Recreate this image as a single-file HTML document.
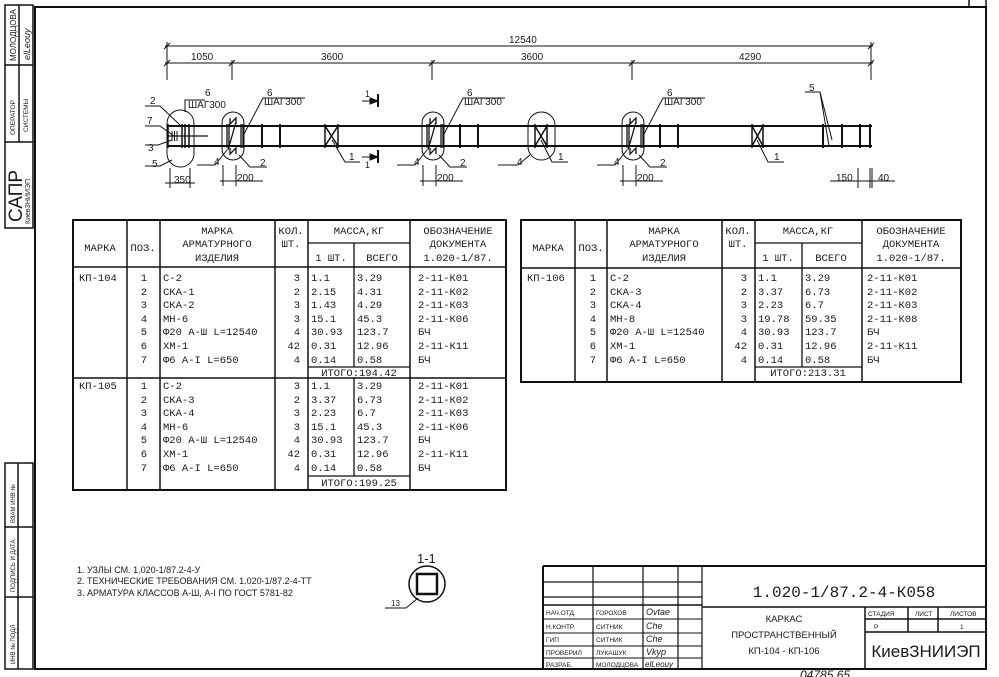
<!DOCTYPE html>
<html><head><meta charset="utf-8"><style>
html,body{margin:0;padding:0;background:#fff}
svg{display:block}
text{font-family:"Liberation Mono","DejaVu Sans Mono",monospace;fill:#1a1a1a}
.s{font-family:"Liberation Sans","DejaVu Sans",sans-serif}
</style></head><body>
<svg width="999" height="677" viewBox="0 0 999 677" xmlns="http://www.w3.org/2000/svg">
<rect width="999" height="677" fill="#fff"/>
<g stroke="#111" fill="none">
<path d="M35 7H986V669H35Z" stroke-width="2"/>
<path d="M969 0V7M986 0V7" stroke-width="1.5"/>
<path d="M5 5H33V228H5Z M5 65H33 M5 142H33 M19 5V65 M19 65V142" stroke-width="1.5"/>
<path d="M5 463H33V669H5Z M5 527H33 M5 597H33 M18 463V669" stroke-width="1.5"/>
</g>
<g class="s">
<text class="s" transform="translate(16,61) rotate(-90)" font-size="8">МОЛОДЦОВА</text>
<text class="s" transform="translate(30,60) rotate(-90)" font-size="9" font-style="italic">elLeouy</text>
<text class="s" transform="translate(15,135) rotate(-90)" font-size="6.5">ОПЕРАТОР</text>
<text class="s" transform="translate(28,132) rotate(-90)" font-size="6.5">СИСТЕМЫ</text>
<text class="s" transform="translate(22,222) rotate(-90)" font-size="19">САПР</text>
<text class="s" transform="translate(30,224) rotate(-90)" font-size="7">КиевЗНИИЭП</text>
<text class="s" transform="translate(15,664) rotate(-90)" font-size="6">ИНВ № ПОДЛ</text>
<text class="s" transform="translate(15,592) rotate(-90)" font-size="6">ПОДПИСЬ И ДАТА</text>
<text class="s" transform="translate(15,523) rotate(-90)" font-size="6">ВЗАМ ИНВ №</text>
</g>

<g stroke="#111" stroke-width="1" fill="none">
<path d="M165 46H873 M165 63H873"/>
<path d="M167 42V70 M232 60V70 M432 60V70 M632 60V70 M871 42V70 M232 63V80 M432 63V80 M632 63V80 M871 63V80 M167 63V80"/>
<path d="M164 49L170 43 M164 66L170 60 M229 66L235 60 M429 66L435 60 M629 66L635 60 M868 49L874 43 M868 66L874 60"/>
</g>
<g class="s" font-size="10">
<text class="s" x="509" y="43">12540</text>
<text class="s" x="191" y="60">1050</text>
<text class="s" x="321" y="60">3600</text>
<text class="s" x="521" y="60">3600</text>
<text class="s" x="739" y="60">4290</text>
</g>

<g stroke="#111" fill="none">
<path d="M168 126H872 M168 146H872" stroke-width="2"/>
<path d="M168 124V148" stroke-width="1.5"/>
<path d="M168 136H208" stroke-width="1.3"/>
<path d="M172 131V141 M174.5 131V141 M177 131V141" stroke-width="1"/>
<path d="M182 124V148 M185 124V148 M189 124V148" stroke-width="1.5"/>
<rect x="167" y="110" width="27" height="57" rx="13.5" stroke-width="1"/>
<path d="M145 106H160L180 125 M145 126H160L174 136 M145 145H158L172 140 M145 166H160L172 160 M185 112V100H205" stroke-width="1"/>
<path d="M262 124V148 M280 124V148 M460 124V148 M478 124V148 M660 124V148 M678 124V148 M823 124V148 M842 124V148 M860 124V148 M870 124V148" stroke-width="2"/>
<path d="M325 124V148 M338 124V148 M325 126L338 146 M338 126L325 146" stroke-width="1.5"/>
<path d="M535 124V148 M547 124V148 M535 126L547 146 M547 126L535 146" stroke-width="1.5"/>
<path d="M752 124V148 M763 124V148 M752 126L763 146 M763 126L752 146" stroke-width="1.5"/>
<rect x="528" y="112" width="27" height="48" rx="13.5" stroke-width="1"/>
<path d="M332 140L345 162H360 M541 140L552 162H568 M757 140L768 162H784" stroke-width="1"/>
<path d="M530 155L518 165H498" stroke-width="1"/>
<path d="M805 92H820L832 140 M820 92L829 146" stroke-width="1"/>
<path d="M378 94V107 M378 150V163" stroke-width="2"/>
<path d="M362 101H377 M362 157H377" stroke-width="1"/>
<path d="M370 98L378 101L370 104Z M370 154L378 157L370 160Z" fill="#111"/>
</g>
<g stroke="#111" fill="none">
<g transform="translate(233,0)">
<rect x="-11" y="112" width="22" height="48" rx="11" stroke-width="1"/>
<path d="M-6 124V148 M-4 124V148 M8 124V148 M10 124V148" stroke-width="1.3"/>
<path d="M-3 118V124L3 118V124 M-3 148V154L3 148V154 M3 122L-5 150" stroke-width="1.3"/>
<path d="M-6 150L-18 165H-36 M6 155L17 167H34 M10 136L30 98H72" stroke-width="1"/>
<path d="M-10 165V186 M3 165V186 M-13 181H30" stroke-width="1"/>
</g>
<g transform="translate(433,0)">
<rect x="-11" y="112" width="22" height="48" rx="11" stroke-width="1"/>
<path d="M-6 124V148 M-4 124V148 M8 124V148 M10 124V148" stroke-width="1.3"/>
<path d="M-3 118V124L3 118V124 M-3 148V154L3 148V154 M3 122L-5 150" stroke-width="1.3"/>
<path d="M-6 150L-18 165H-36 M6 155L17 167H34 M10 136L30 98H72" stroke-width="1"/>
<path d="M-10 165V186 M3 165V186 M-13 181H30" stroke-width="1"/>
</g>
<g transform="translate(633,0)">
<rect x="-11" y="112" width="22" height="48" rx="11" stroke-width="1"/>
<path d="M-6 124V148 M-4 124V148 M8 124V148 M10 124V148" stroke-width="1.3"/>
<path d="M-3 118V124L3 118V124 M-3 148V154L3 148V154 M3 122L-5 150" stroke-width="1.3"/>
<path d="M-6 150L-18 165H-36 M6 155L17 167H34 M10 136L30 98H72" stroke-width="1"/>
<path d="M-10 165V186 M3 165V186 M-13 181H30" stroke-width="1"/>
</g>
<path d="M170 168V188 M190 168V188 M165 183H195" stroke-width="1"/>
<path d="M858 168V188 M870 168V188 M872 168V188 M830 181H895" stroke-width="1"/>
</g>
<g class="s" font-size="10">
<text class="s" x="150" y="104">2</text><text class="s" x="147" y="124">7</text>
<text class="s" x="148" y="151">3</text><text class="s" x="152" y="167">5</text>
<text class="s" x="205" y="96">6</text><text class="s" x="188" y="108">ШАГ300</text>
<text class="s" x="174" y="183">350</text>
<text class="s" x="267" y="96">6</text><text class="s" x="264" y="105">ШАГ300</text>
<text class="s" x="467" y="96">6</text><text class="s" x="464" y="105">ШАГ300</text>
<text class="s" x="667" y="96">6</text><text class="s" x="664" y="105">ШАГ300</text>
<text class="s" x="214" y="165">4</text><text class="s" x="260" y="166">2</text><text class="s" x="237" y="181">200</text>
<text class="s" x="414" y="165">4</text><text class="s" x="460" y="166">2</text><text class="s" x="437" y="181">200</text>
<text class="s" x="614" y="165">4</text><text class="s" x="660" y="166">2</text><text class="s" x="637" y="181">200</text>
<text class="s" x="517" y="165">4</text>
<text class="s" x="349" y="160">1</text><text class="s" x="558" y="160">1</text><text class="s" x="774" y="160">1</text>
<text class="s" x="809" y="91">5</text>
<text class="s" x="836" y="181">150</text><text class="s" x="878" y="181">40</text>
<text class="s" x="365" y="97" font-size="9">1</text><text class="s" x="365" y="168" font-size="9">1</text>
</g>

<!-- LEFT TABLE -->
<g stroke="#111" fill="none">
<path d="M73 220H506V490H73Z" stroke-width="2"/>
<path d="M73 267H506 M73 378H506" stroke-width="1.5"/>
<path d="M127 220V490 M160 220V490 M275 220V490 M308 220V490 M410 220V490" stroke-width="1.5"/>
<path d="M308 243H410 M354 243V367 M354 378V476 M308 367H410 M308 476H410" stroke-width="1.3"/>
</g>
<g font-size="10.5">
<text x="100" y="251" text-anchor="middle">МАРКА</text>
<text x="143" y="251" text-anchor="middle">ПОЗ.</text>
<text x="217" y="234" text-anchor="middle">МАРКА</text>
<text x="217" y="247" text-anchor="middle">АРМАТУРНОГО</text>
<text x="217" y="261" text-anchor="middle">ИЗДЕЛИЯ</text>
<text x="291" y="234" text-anchor="middle">КОЛ.</text>
<text x="291" y="247" text-anchor="middle">ШТ.</text>
<text x="359" y="234" text-anchor="middle">МАССА,КГ</text>
<text x="331" y="261" text-anchor="middle">1 ШТ.</text>
<text x="382" y="261" text-anchor="middle">ВСЕГО</text>
<text x="458" y="234" text-anchor="middle">ОБОЗНАЧЕНИЕ</text>
<text x="458" y="247" text-anchor="middle">ДОКУМЕНТА</text>
<text x="458" y="261" text-anchor="middle">1.020-1/87.</text>
<text x="79" y="281">КП-104</text>
<text x="79" y="389">КП-105</text>
</g>
<g font-size="10.5">
<g text-anchor="end">
<text x="147" y="281">1</text><text x="147" y="295">2</text><text x="147" y="308">3</text><text x="147" y="322">4</text><text x="147" y="335">5</text><text x="147" y="349">6</text><text x="147" y="363">7</text>
<text x="300" y="281">3</text><text x="300" y="295">2</text><text x="300" y="308">3</text><text x="300" y="322">3</text><text x="300" y="335">4</text><text x="300" y="349">42</text><text x="300" y="363">4</text>
</g>
<text x="163" y="281">С-2</text><text x="163" y="295">СКА-1</text><text x="163" y="308">СКА-2</text><text x="163" y="322">МН-6</text><text x="163" y="335">Φ20 А-Ш L=12540</text><text x="163" y="349">ХМ-1</text><text x="163" y="363">Φ6 А-I L=650</text>
<text x="311" y="281">1.1</text><text x="311" y="295">2.15</text><text x="311" y="308">1.43</text><text x="311" y="322">15.1</text><text x="311" y="335">30.93</text><text x="311" y="349">0.31</text><text x="311" y="363">0.14</text>
<text x="357" y="281">3.29</text><text x="357" y="295">4.31</text><text x="357" y="308">4.29</text><text x="357" y="322">45.3</text><text x="357" y="335">123.7</text><text x="357" y="349">12.96</text><text x="357" y="363">0.58</text>
<text x="418" y="281">2-11-К01</text><text x="418" y="295">2-11-К02</text><text x="418" y="308">2-11-К03</text><text x="418" y="322">2-11-К06</text><text x="418" y="335">БЧ</text><text x="418" y="349">2-11-К11</text><text x="418" y="363">БЧ</text>
<text x="359" y="376" text-anchor="middle">ИТОГО:194.42</text>
</g>
<g font-size="10.5">
<g text-anchor="end">
<text x="147" y="389">1</text><text x="147" y="403">2</text><text x="147" y="416">3</text><text x="147" y="430">4</text><text x="147" y="443">5</text><text x="147" y="457">6</text><text x="147" y="471">7</text>
<text x="300" y="389">3</text><text x="300" y="403">2</text><text x="300" y="416">3</text><text x="300" y="430">3</text><text x="300" y="443">4</text><text x="300" y="457">42</text><text x="300" y="471">4</text>
</g>
<text x="163" y="389">С-2</text><text x="163" y="403">СКА-3</text><text x="163" y="416">СКА-4</text><text x="163" y="430">МН-6</text><text x="163" y="443">Φ20 А-Ш L=12540</text><text x="163" y="457">ХМ-1</text><text x="163" y="471">Φ6 А-I L=650</text>
<text x="311" y="389">1.1</text><text x="311" y="403">3.37</text><text x="311" y="416">2.23</text><text x="311" y="430">15.1</text><text x="311" y="443">30.93</text><text x="311" y="457">0.31</text><text x="311" y="471">0.14</text>
<text x="357" y="389">3.29</text><text x="357" y="403">6.73</text><text x="357" y="416">6.7</text><text x="357" y="430">45.3</text><text x="357" y="443">123.7</text><text x="357" y="457">12.96</text><text x="357" y="471">0.58</text>
<text x="418" y="389">2-11-К01</text><text x="418" y="403">2-11-К02</text><text x="418" y="416">2-11-К03</text><text x="418" y="430">2-11-К06</text><text x="418" y="443">БЧ</text><text x="418" y="457">2-11-К11</text><text x="418" y="471">БЧ</text>
<text x="359" y="486" text-anchor="middle">ИТОГО:199.25</text>
</g>

<!-- RIGHT TABLE -->
<g stroke="#111" fill="none">
<path d="M521 220H961V382H521Z" stroke-width="2"/>
<path d="M521 268H961" stroke-width="1.5"/>
<path d="M575 220V382 M607 220V382 M722 220V382 M755 220V382 M862 220V382" stroke-width="1.5"/>
<path d="M755 243H862 M802 243V367 M755 367H862" stroke-width="1.3"/>
</g>
<g font-size="10.5">
<text x="548" y="251" text-anchor="middle">МАРКА</text>
<text x="591" y="251" text-anchor="middle">ПОЗ.</text>
<text x="664" y="234" text-anchor="middle">МАРКА</text>
<text x="664" y="247" text-anchor="middle">АРМАТУРНОГО</text>
<text x="664" y="261" text-anchor="middle">ИЗДЕЛИЯ</text>
<text x="738" y="234" text-anchor="middle">КОЛ.</text>
<text x="738" y="247" text-anchor="middle">ШТ.</text>
<text x="808" y="234" text-anchor="middle">МАССА,КГ</text>
<text x="778" y="261" text-anchor="middle">1 ШТ.</text>
<text x="831" y="261" text-anchor="middle">ВСЕГО</text>
<text x="911" y="234" text-anchor="middle">ОБОЗНАЧЕНИЕ</text>
<text x="911" y="247" text-anchor="middle">ДОКУМЕНТА</text>
<text x="911" y="261" text-anchor="middle">1.020-1/87.</text>
<text x="527" y="281">КП-106</text>
<g text-anchor="end">
<text x="596" y="281">1</text><text x="596" y="295">2</text><text x="596" y="308">3</text><text x="596" y="322">4</text><text x="596" y="335">5</text><text x="596" y="349">6</text><text x="596" y="363">7</text>
<text x="747" y="281">3</text><text x="747" y="295">2</text><text x="747" y="308">3</text><text x="747" y="322">3</text><text x="747" y="335">4</text><text x="747" y="349">42</text><text x="747" y="363">4</text>
</g>
<text x="610" y="281">С-2</text><text x="610" y="295">СКА-3</text><text x="610" y="308">СКА-4</text><text x="610" y="322">МН-8</text><text x="610" y="335">Φ20 А-Ш L=12540</text><text x="610" y="349">ХМ-1</text><text x="610" y="363">Φ6 А-I L=650</text>
<text x="758" y="281">1.1</text><text x="758" y="295">3.37</text><text x="758" y="308">2.23</text><text x="758" y="322">19.78</text><text x="758" y="335">30.93</text><text x="758" y="349">0.31</text><text x="758" y="363">0.14</text>
<text x="805" y="281">3.29</text><text x="805" y="295">6.73</text><text x="805" y="308">6.7</text><text x="805" y="322">59.35</text><text x="805" y="335">123.7</text><text x="805" y="349">12.96</text><text x="805" y="363">0.58</text>
<text x="867" y="281">2-11-К01</text><text x="867" y="295">2-11-К02</text><text x="867" y="308">2-11-К03</text><text x="867" y="322">2-11-К08</text><text x="867" y="335">БЧ</text><text x="867" y="349">2-11-К11</text><text x="867" y="363">БЧ</text>
<text x="808" y="376" text-anchor="middle">ИТОГО:213.31</text>
</g>

<g class="s" font-size="9">
<text class="s" x="77" y="573">1. УЗЛЫ СМ. 1.020-1/87.2-4-У</text>
<text class="s" x="77" y="584">2. ТЕХНИЧЕСКИЕ ТРЕБОВАНИЯ СМ. 1.020-1/87.2-4-ТТ</text>
<text class="s" x="77" y="596">3. АРМАТУРА КЛАССОВ А-Ш, А-I ПО ГОСТ 5781-82</text>
</g>
<g stroke="#111" fill="none">
<circle cx="427" cy="584" r="18" stroke-width="1.5"/>
<rect x="417" y="574" width="20" height="20" stroke-width="2.5"/>
<path d="M385 608H406L418 598" stroke-width="1"/>
</g>
<text class="s" x="417" y="563" font-size="13">1-1</text>
<text class="s" x="391" y="606" font-size="8">13</text>

<g stroke="#111" fill="none">
<path d="M543 566H986 M543 566V669" stroke-width="2"/>
<path d="M702 566V669 M543 582H702 M543 597H702" stroke-width="1.2"/>
<path d="M543 605H702" stroke-width="1.5"/>
<path d="M543 619H702 M543 633H702 M543 646H702 M543 658H702" stroke-width="1"/>
<path d="M593 566V669 M643 566V669 M678 566V669" stroke-width="1.2"/>
<path d="M702 607H986 M865 607V669 M865 619H986 M865 632H986 M908 607V632 M938 607V632" stroke-width="1.5"/>
</g>
<g class="s" font-size="6.5">
<text class="s" x="546" y="615">НАЧ.ОТД.</text><text class="s" x="596" y="615">ГОРОХОВ</text>
<text class="s" x="546" y="629">Н.КОНТР.</text><text class="s" x="596" y="629">СИТНИК</text>
<text class="s" x="546" y="642">ГИП</text><text class="s" x="596" y="642">СИТНИК</text>
<text class="s" x="546" y="655">ПРОВЕРИЛ</text><text class="s" x="596" y="655">ЛУКАШУК</text>
<text class="s" x="546" y="667">РАЗРАБ.</text><text class="s" x="596" y="667">МОЛОДЦОВА</text>
<text class="s" x="646" y="615" font-style="italic" font-size="9">Ovtae</text>
<text class="s" x="646" y="629" font-style="italic" font-size="9">Che</text>
<text class="s" x="646" y="642" font-style="italic" font-size="9">Che</text>
<text class="s" x="646" y="655" font-style="italic" font-size="9">Vkyp</text>
<text class="s" x="645" y="667" font-style="italic" font-size="8">elLeouy</text>
<text class="s" x="868" y="616">СТАДИЯ</text><text class="s" x="915" y="616">ЛИСТ</text><text class="s" x="950" y="616">ЛИСТОВ</text>
<text class="s" x="874" y="629">Р</text><text class="s" x="960" y="629">1</text>
</g>
<text x="844" y="597" font-size="16" text-anchor="middle">1.020-1/87.2-4-К058</text>
<g class="s" font-size="9.5" text-anchor="middle">
<text class="s" x="784" y="622">КАРКАС</text>
<text class="s" x="784" y="638">ПРОСТРАНСТВЕННЫЙ</text>
<text class="s" x="784" y="654">КП-104 - КП-106</text>
</g>
<text class="s" x="926" y="657" font-size="17" text-anchor="middle">КиевЗНИИЭП</text>
<text class="s" x="800" y="679" font-size="12" font-style="italic">04785  65</text>
</svg>
</body></html>
